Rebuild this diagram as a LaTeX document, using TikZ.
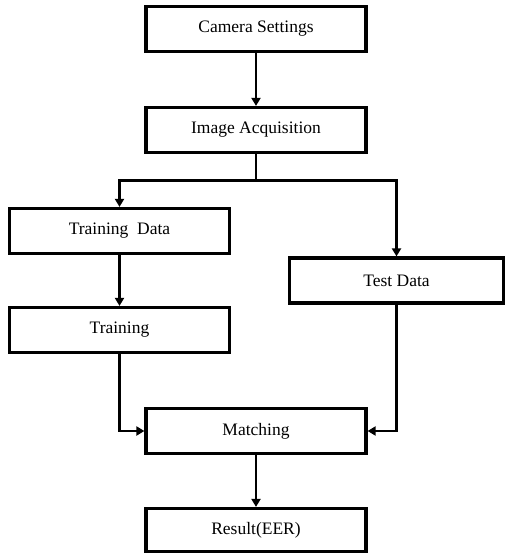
\documentclass[tikz,border=0pt]{standalone}
\usepackage{fontspec}
\setmainfont{Liberation Serif}
\usetikzlibrary{arrows.meta,calc}

\begin{document}
\begin{tikzpicture}[x=0.5pt,y=-0.5pt,>={Triangle[length=4pt,width=4.5pt]},
    box/.style={draw,line width=1.6pt,minimum width=110pt,minimum height=22.5pt,
      inner sep=0pt,font=\fontsize{8.75}{10}\selectfont},
    flow/.style={->,line width=1.4pt}]
  \useasboundingbox (0,0) rectangle (506,556);
  \node[box] (cam) at (256,29) {Camera Settings};
  \node[box] (acq) at (256,130) {Image Acquisition};
  \node[box] (traindata) at (119.5,231) {Training\ \ Data};
  \node[box,minimum width=107pt] (testdata) at (396.5,280.5) {Test Data};
  \node[box] (train) at (119.5,330) {Training};
  \node[box] (match) at (256,431) {Matching};
  \node[box,minimum height=21.5pt] (result) at (256,530) {Result(EER)};
  % split below the acquisition box
  \coordinate (split) at ($(acq.south)+(0,26)$);
  \draw[flow] (cam) -- (acq);
  \draw[flow] (acq.south) -- (split) -| (traindata.north);
  \draw[flow] (split) -| (testdata.north);
  \draw[flow] (traindata) -- (train);
  \draw[flow] (train.south) |- (match.west);
  \draw[flow] (testdata.south) |- (match.east);
  \draw[flow] (match) -- (result);
\end{tikzpicture}
\end{document}
